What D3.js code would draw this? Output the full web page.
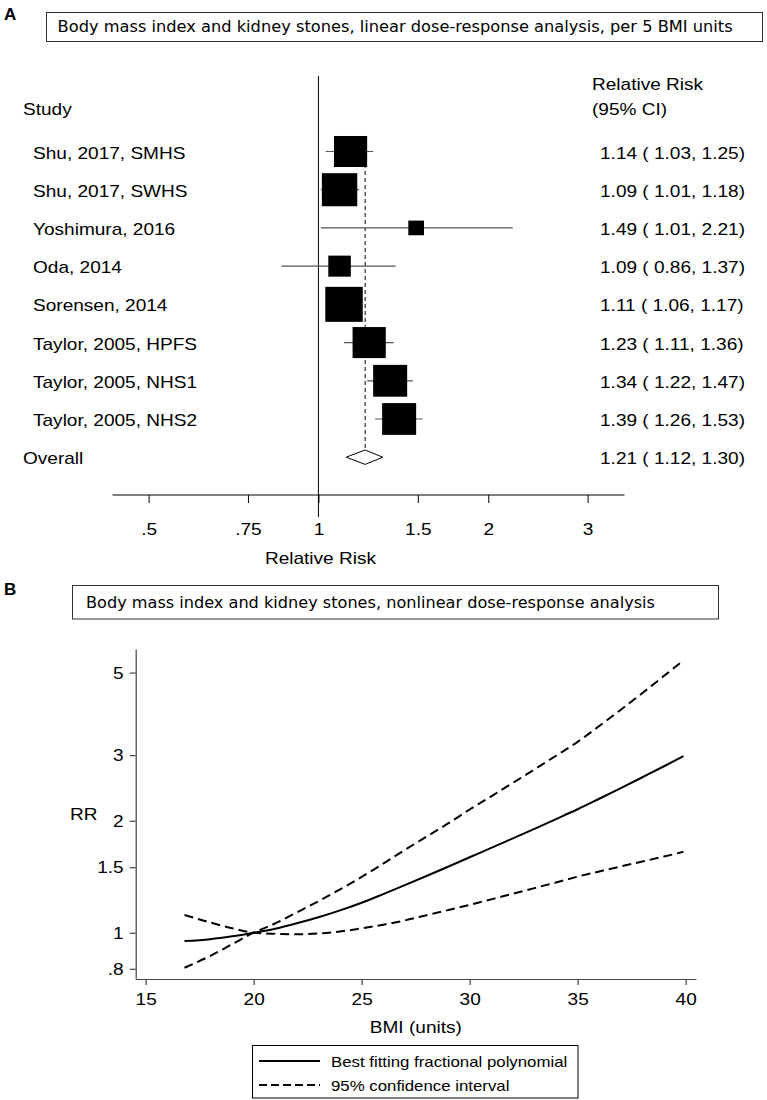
<!DOCTYPE html>
<html>
<head>
<meta charset="utf-8">
<script src="https://cdn.jsdelivr.net/npm/d3@7"></script>
<style>
  html, body { margin: 0; padding: 0; background: #fff; }
  svg { display: block; }
</style>
</head>
<body>
<script>
// ---------------- Panel A data (linear dose-response, per 5 BMI units) ----------------
const studies = ["Shu, 2017, SMHS", "Shu, 2017, SWHS", "Yoshimura, 2016", "Oda, 2014",
                 "Sorensen, 2014", "Taylor, 2005, HPFS", "Taylor, 2005, NHS1", "Taylor, 2005, NHS2"];
const rrEst  = [1.14, 1.09, 1.49, 1.09, 1.11, 1.23, 1.34, 1.39];
const rrLow  = [1.03, 1.01, 1.01, 0.86, 1.06, 1.11, 1.22, 1.26];
const rrHigh = [1.25, 1.18, 2.21, 1.37, 1.17, 1.36, 1.47, 1.53];
const weights = [13.9, 15.8, 3.1, 6.4, 17.7, 13.9, 14.6, 14.6];   // % weight (box area)
const overallLabel = "Overall";
const overall = [1.21, 1.12, 1.30];
const axisATicks = [0.5, 0.75, 1, 1.5, 2, 3];
const axisALabels = [".5", ".75", "1", "1.5", "2", "3"];

// ---------------- Panel B data (nonlinear dose-response) ----------------
const bmi   = [16.8, 18, 19, 20, 21, 22, 23, 24, 25, 26, 27, 28, 29, 30, 31, 32, 33, 34, 35, 36, 37, 38, 39, 39.9];
const rrFit = [0.950, 0.961, 0.978, 1.000, 1.025, 1.060, 1.100, 1.148, 1.204, 1.270, 1.342, 1.420,
               1.504, 1.595, 1.690, 1.793, 1.902, 2.020, 2.147, 2.291, 2.447, 2.617, 2.801, 2.983];
// confidence band: curve starting high (lower bound above 20) and curve starting low (upper bound above 20)
const ciCurveA = [1.116, 1.065, 1.028, 1.000, 0.993, 0.990, 0.995, 1.008, 1.027, 1.051, 1.079, 1.114,
                  1.150, 1.188, 1.229, 1.273, 1.318, 1.365, 1.415, 1.461, 1.507, 1.554, 1.602, 1.650];
const ciCurveB = [0.805, 0.867, 0.931, 1.000, 1.059, 1.134, 1.215, 1.307, 1.412, 1.534, 1.669, 1.811,
                  1.966, 2.143, 2.326, 2.527, 2.746, 2.989, 3.258, 3.593, 3.975, 4.406, 4.899, 5.392];
const xTicksB = [15, 20, 25, 30, 35, 40];
const yTicksB = [0.8, 1, 1.5, 2, 3, 5];
const yLabelsB = [".8", "1", "1.5", "2", "3", "5"];
const legendLabels = ["Best fitting fractional polynomial", "95% confidence interval"];

// ---------------- Drawing ----------------
const W = 767, H = 1100;
const SANS = "'Liberation Sans', Arial, sans-serif";
const TITLEF = "'DejaVu Sans', Verdana, sans-serif";
const XS = 1.12; // horizontal text stretch of the original graphic
const FS = 17;

const svg = d3.select("body").append("svg").attr("width", W).attr("height", H)
  .attr("viewBox", `0 0 ${W} ${H}`);
svg.append("rect").attr("width", W).attr("height", H).attr("fill", "#fff");

function stretch(sel, f) {
  sel.each(function () {
    const w = this.getComputedTextLength();
    d3.select(this).attr("textLength", w * f).attr("lengthAdjust", "spacingAndGlyphs");
  });
  return sel;
}
function fitWidth(sel, target) {
  sel.attr("textLength", target).attr("lengthAdjust", "spacingAndGlyphs");
  return sel;
}

// ===== Panel A =====
const gA = svg.append("g");
gA.append("text").attr("x", 4).attr("y", 20).attr("font-family", SANS).attr("font-weight", "bold")
  .attr("font-size", 17).text("A");
gA.append("rect").attr("x", 46.5).attr("y", 12.5).attr("width", 716).attr("height", 29)
  .attr("fill", "#fff").attr("stroke", "#333").attr("stroke-width", 1);
fitWidth(gA.append("text").attr("x", 57.6).attr("y", 31.5).attr("font-family", TITLEF).attr("font-size", 15.5)
  .text("Body mass index and kidney stones, linear dose-response analysis, per 5 BMI units"), 675);

const xA = d3.scaleLog().domain([0.4315, 3.487]).range([112.5, 624.5]);
const yRow = d3.scaleLinear().domain([0, 8]).range([151.5, 457.2]);

// header
stretch(gA.append("text").attr("x", 23).attr("y", 115).attr("font-family", SANS).attr("font-size", FS).text("Study"), XS);
stretch(gA.append("text").attr("x", 592).attr("y", 89.5).attr("font-family", SANS).attr("font-size", FS).text("Relative Risk"), XS);
stretch(gA.append("text").attr("x", 592).attr("y", 115).attr("font-family", SANS).attr("font-size", FS).text("(95% CI)"), XS);

// null line
gA.append("line").attr("x1", xA(1)).attr("x2", xA(1)).attr("y1", 76).attr("y2", 517)
  .attr("stroke", "#000").attr("stroke-width", 1);

// overall dashed line
gA.append("line").attr("x1", xA(overall[0])).attr("x2", xA(overall[0]))
  .attr("y1", 136).attr("y2", yRow(8) - 7.2)
  .attr("stroke", "#000").attr("stroke-width", 1).attr("stroke-dasharray", "4,3");

const fmt = d3.format(".2f");
const rows = studies.map((s, i) => ({ s, i, est: rrEst[i], lo: rrLow[i], hi: rrHigh[i], w: weights[i] }));
const k = 8.32;

const rowG = gA.selectAll("g.row").data(rows).join("g").attr("class", "row");
rowG.append("line")
  .attr("x1", d => xA(d.lo)).attr("x2", d => xA(d.hi))
  .attr("y1", d => yRow(d.i)).attr("y2", d => yRow(d.i))
  .attr("stroke", "#555").attr("stroke-width", 1.2);
rowG.append("rect")
  .attr("x", d => xA(d.est) - k * Math.sqrt(d.w) * 1.07 / 2)
  .attr("y", d => yRow(d.i) - k * Math.sqrt(d.w) / 2)
  .attr("width", d => k * Math.sqrt(d.w) * 1.07)
  .attr("height", d => k * Math.sqrt(d.w))
  .attr("fill", "#000");
rowG.append("text").attr("x", 33).attr("y", d => yRow(d.i) + 7)
  .attr("font-family", SANS).attr("font-size", FS).text(d => d.s)
  .call(s => stretch(s, XS));
rowG.append("text").attr("x", 600).attr("y", d => yRow(d.i) + 7)
  .attr("font-family", SANS).attr("font-size", FS)
  .attr("xml:space", "preserve")
  .text(d => `${fmt(d.est)} ( ${fmt(d.lo)}, ${fmt(d.hi)})`)
  .call(s => stretch(s, XS));

// overall
const yo = yRow(8);
gA.append("path")
  .attr("d", d3.line()([[xA(overall[1]), yo], [xA(overall[0]), yo - 7.2], [xA(overall[2]), yo], [xA(overall[0]), yo + 7.2]]) + "Z")
  .attr("fill", "#fff").attr("stroke", "#000").attr("stroke-width", 1);
stretch(gA.append("text").attr("x", 23).attr("y", yo + 7).attr("font-family", SANS).attr("font-size", FS).text(overallLabel), XS);
stretch(gA.append("text").attr("x", 600).attr("y", yo + 7).attr("font-family", SANS).attr("font-size", FS)
  .attr("xml:space", "preserve")
  .text(`${fmt(overall[0])} ( ${fmt(overall[1])}, ${fmt(overall[2])})`), XS);

// axis A
const axA = gA.append("g").attr("transform", "translate(0,495)")
  .call(d3.axisBottom(xA).tickValues(axisATicks).tickFormat((d, i) => axisALabels[i])
    .tickSize(8).tickPadding(20).tickSizeOuter(0));
axA.select(".domain").attr("stroke", "#000").attr("d", "M112.5,0H624.5");
axA.selectAll(".tick line").attr("stroke", "#000");
axA.selectAll(".tick text").attr("font-family", SANS).attr("font-size", FS).attr("fill", "#000")
  .call(s => stretch(s, XS));
stretch(gA.append("text").attr("x", xA(1) + 2).attr("y", 564).attr("text-anchor", "middle")
  .attr("font-family", SANS).attr("font-size", FS).text("Relative Risk"), XS);

// ===== Panel B =====
const gB = svg.append("g");
gB.append("text").attr("x", 4).attr("y", 595).attr("font-family", SANS).attr("font-weight", "bold")
  .attr("font-size", 17).text("B");
gB.append("rect").attr("x", 72.5).attr("y", 585.5).attr("width", 646).attr("height", 33.5)
  .attr("fill", "#fff").attr("stroke", "#333").attr("stroke-width", 1);
fitWidth(gB.append("text").attr("x", 86).attr("y", 608).attr("font-family", TITLEF).attr("font-size", 15.5)
  .text("Body mass index and kidney stones, nonlinear dose-response analysis"), 569);

const xB = d3.scaleLinear().domain([14.54, 40.48]).range([135.7, 696]);
const yB = d3.scaleLog().domain([0.751, 5.786]).range([979, 649]);

const axXB = gB.append("g").attr("transform", "translate(0,979)")
  .call(d3.axisBottom(xB).tickValues(xTicksB).tickFormat(d3.format("d")).tickSize(6).tickPadding(8).tickSizeOuter(0));
const axYB = gB.append("g").attr("transform", "translate(135.7,0)")
  .call(d3.axisLeft(yB).tickValues(yTicksB).tickFormat((d, i) => yLabelsB[i]).tickSize(6).tickPadding(6).tickSizeOuter(0));
[axXB, axYB].forEach(a => {
  a.select(".domain").attr("stroke", "#444").attr("stroke-width", 1.2);
  a.selectAll(".tick line").attr("stroke", "#444").attr("stroke-width", 1.2);
  a.selectAll(".tick text").attr("font-family", SANS).attr("font-size", FS).attr("fill", "#000")
    .call(s => stretch(s, XS));
});

const lineB = d3.line().x((d, i) => xB(bmi[i])).y(d => yB(d)).curve(d3.curveMonotoneX);
gB.append("path").attr("d", lineB(ciCurveA)).attr("fill", "none").attr("stroke", "#000")
  .attr("stroke-width", 2).attr("stroke-dasharray", "9,5");
gB.append("path").attr("d", lineB(ciCurveB)).attr("fill", "none").attr("stroke", "#000")
  .attr("stroke-width", 2).attr("stroke-dasharray", "9,5");
gB.append("path").attr("d", lineB(rrFit)).attr("fill", "none").attr("stroke", "#000")
  .attr("stroke-width", 2);

stretch(gB.append("text").attr("x", 70).attr("y", 820).attr("font-family", SANS).attr("font-size", FS).text("RR"), XS);
stretch(gB.append("text").attr("x", (135.7 + 696) / 2).attr("y", 1033).attr("text-anchor", "middle")
  .attr("font-family", SANS).attr("font-size", FS).text("BMI (units)"), XS);

// legend
const lg = gB.append("g");
lg.append("rect").attr("x", 252.5).attr("y", 1045.5).attr("width", 325.5).attr("height", 52.5)
  .attr("fill", "#fff").attr("stroke", "#000").attr("stroke-width", 1);
const legY = [1061, 1085];
legendLabels.forEach((t, i) => {
  lg.append("line").attr("x1", 259).attr("x2", 320).attr("y1", legY[i]).attr("y2", legY[i])
    .attr("stroke", "#000").attr("stroke-width", 2)
    .attr("stroke-dasharray", i === 0 ? null : "8,4");
  stretch(lg.append("text").attr("x", 331).attr("y", legY[i] + 5.5).attr("font-family", SANS)
    .attr("font-size", 15).text(t), XS);
});
</script>
</body>
</html>
